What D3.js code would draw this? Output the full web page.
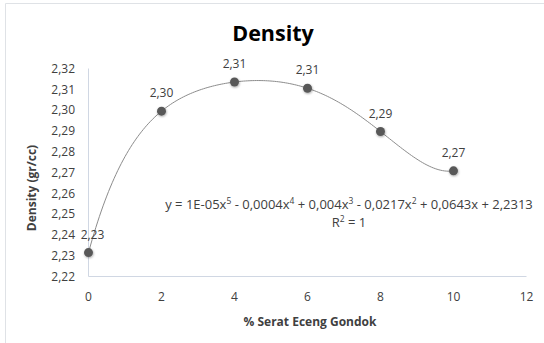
<!DOCTYPE html>
<html><head><meta charset="utf-8">
<script src="https://cdn.jsdelivr.net/npm/d3@7"></script>
<style>body{margin:0;background:#fff}svg{display:block}text{font-family:"Open Sans","Noto Sans",sans-serif}</style>
</head><body>
<script>
const fiber = [0, 2, 4, 6, 8, 10];
const density = [2.2315, 2.2995, 2.3135, 2.3105, 2.2897, 2.2708];
const pointLabels = ["2,23", "2,30", "2,31", "2,31", "2,29", "2,27"];
const yTicks = [2.22, 2.23, 2.24, 2.25, 2.26, 2.27, 2.28, 2.29, 2.30, 2.31, 2.32];
const xTicks = [0, 2, 4, 6, 8, 10, 12];
const title = "Density";
const xTitle = "% Serat Eceng Gondok";
const yTitle = "Density (gr/cc)";

const W = 544, H = 343;
const svg = d3.select("body").append("svg").attr("width", W).attr("height", H);
const defs = svg.append("defs");
const f = defs.append("filter").attr("id","sh").attr("x","-50%").attr("y","-50%").attr("width","200%").attr("height","200%");
f.append("feDropShadow").attr("dx",0.5).attr("dy",1).attr("stdDeviation",1).attr("flood-color","#000").attr("flood-opacity",0.35);

// chart border (top & left)
svg.append("line").attr("x1",5.5).attr("x2",544).attr("y1",3.5).attr("y2",3.5).attr("stroke","#dfe2e6");
svg.append("line").attr("x1",5.5).attr("x2",5.5).attr("y1",3.5).attr("y2",343).attr("stroke","#dfe2e6");

const x = d3.scaleLinear().domain([0,12]).range([88.5, 526.5]);
const y = d3.scaleLinear().domain([2.22,2.32]).range([276.5, 68.5]);

// axes
svg.append("line").attr("x1",x(0)).attr("x2",x(12)).attr("y1",y(2.22)).attr("y2",y(2.22)).attr("stroke","#d0d7e3");
svg.append("line").attr("x1",x(0)).attr("x2",x(0)).attr("y1",y(2.22)).attr("y2",y(2.32)).attr("stroke","#d0d7e3");

const fmt = v => d3.format(".2f")(v).replace(".", ",");
svg.append("g").selectAll("text").data(yTicks).join("text")
  .attr("x", 75).attr("y", d => y(d)).attr("dy","0.35em")
  .attr("text-anchor","end").attr("font-size",12).attr("fill","#404040").text(fmt);
svg.append("g").selectAll("text").data(xTicks).join("text")
  .attr("x", d => x(d)).attr("y", 297).attr("dy","0.35em")
  .attr("text-anchor","middle").attr("font-size",12).attr("fill","#404040").text(d => d);

// titles
svg.append("text").attr("x",273).attr("y",33).attr("dy","0.35em").attr("text-anchor","middle")
  .attr("font-size",21.5).attr("font-weight","bold").attr("fill","#000").text(title);
svg.append("text").attr("x",310).attr("y",322).attr("dy","0.35em").attr("text-anchor","middle")
  .attr("font-size",12).attr("font-weight","bold").attr("fill","#404040").text(xTitle);
svg.append("text").attr("transform","translate(32,188) rotate(-90)").attr("dy","0.35em").attr("text-anchor","middle")
  .attr("font-size",12).attr("font-weight","bold").attr("fill","#404040").text(yTitle);

// polynomial trendline (degree 5 through the 6 points => exact interpolation)
function lagrange(xv){
  let s = 0;
  for(let i=0;i<fiber.length;i++){
    let t = density[i];
    for(let j=0;j<fiber.length;j++) if(j!==i) t *= (xv-fiber[j])/(fiber[i]-fiber[j]);
    s += t;
  }
  return s;
}
const trend = d3.range(0, 10.001, 0.05).map(v => [v, lagrange(v)]);
svg.append("path").datum(trend)
  .attr("d", d3.line().x(d=>x(d[0])).y(d=>y(d[1])))
  .attr("fill","none").attr("stroke","#8c8c8c").attr("stroke-width",1);

// markers
const pts = fiber.map((v,i)=>({x:v, y:density[i], l:pointLabels[i]}));
svg.append("g").selectAll("circle").data(pts).join("circle")
  .attr("cx",d=>x(d.x)).attr("cy",d=>y(d.y)).attr("r",4.5)
  .attr("fill","#595959").attr("filter","url(#sh)");
svg.append("g").selectAll("text").data(pts).join("text")
  .attr("x",(d,i)=>x(d.x) + (i===0?4:0)).attr("y",d=>y(d.y)-18).attr("dy","0.35em")
  .attr("text-anchor","middle").attr("font-size",12).attr("fill","#404040").text(d=>d.l);

// equation
const eq = svg.append("text").attr("x",349).attr("y",204).attr("dy","0.35em").attr("text-anchor","middle")
  .attr("font-size",13).attr("fill","#404040");
const parts = [["y = 1E-05x",""],["5",1],[" - 0,0004x",""],["4",1],[" + 0,004x",""],["3",1],[" - 0,0217x",""],["2",1],[" + 0,0643x + 2,2313",""]];
parts.forEach(p=>{
  const ts = eq.append("tspan").text(p[0]);
  if(p[1]===1) ts.attr("font-size",8.5).attr("baseline-shift","super");
});
const r2 = svg.append("text").attr("x",349).attr("y",222).attr("dy","0.35em").attr("text-anchor","middle")
  .attr("font-size",13).attr("fill","#404040");
r2.append("tspan").text("R");
r2.append("tspan").text("2").attr("font-size",8.5).attr("baseline-shift","super");
r2.append("tspan").text(" = 1");
</script>
</body></html>
